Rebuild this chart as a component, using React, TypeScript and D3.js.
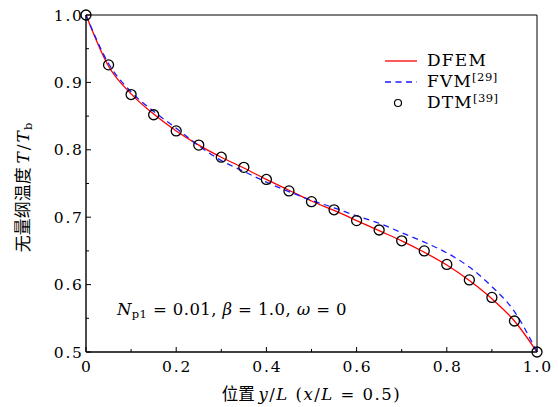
import React from "react";
import * as d3 from "d3";

const positions = [0, 0.05, 0.1, 0.15, 0.2, 0.25, 0.3, 0.35, 0.4, 0.45, 0.5, 0.55, 0.6, 0.65, 0.7, 0.75, 0.8, 0.85, 0.9, 0.95, 1.0];
const dfem = [1.0, 0.924, 0.883, 0.853, 0.828, 0.807, 0.789, 0.773, 0.756, 0.740, 0.724, 0.710, 0.695, 0.680, 0.665, 0.648, 0.629, 0.606, 0.579, 0.546, 0.5];
const fvm = [1.0, 0.928, 0.886, 0.857, 0.832, 0.806, 0.784, 0.768, 0.752, 0.738, 0.725, 0.714, 0.702, 0.691, 0.677, 0.663, 0.647, 0.626, 0.597, 0.560, 0.5];
const dtm = [1.0, 0.926, 0.882, 0.852, 0.828, 0.807, 0.789, 0.774, 0.756, 0.739, 0.723, 0.711, 0.695, 0.681, 0.665, 0.650, 0.630, 0.607, 0.581, 0.546, 0.5];

const xTicks = [0, 0.2, 0.4, 0.6, 0.8, 1.0];
const xTickLabels = ["0", "0.2", "0.4", "0.6", "0.8", "1.0"];
const xMinor = [0.1, 0.3, 0.5, 0.7, 0.9];
const yTicks = [0.5, 0.6, 0.7, 0.8, 0.9, 1.0];
const yTickLabels = ["0.5", "0.6", "0.7", "0.8", "0.9", "1.0"];
const yMinor = [0.55, 0.65, 0.75, 0.85, 0.95];

const W = 558, H = 407;
const L = 86, R = 537, T = 15, B = 352;
const SERIF = "'DejaVu Serif', serif";
const CJK = "'Noto Sans CJK SC', sans-serif";

export default function App() {
  const x = d3.scaleLinear().domain([0, 1]).range([L, R]);
  const y = d3.scaleLinear().domain([0.5, 1]).range([B, T]);
  const line = (vals: number[]) =>
    d3.line<number>().x((_, i) => x(positions[i])).y((v) => y(v)).curve(d3.curveMonotoneX)(vals) || "";

  return (
    <svg width={W} height={H} style={{ position: "absolute", left: 0, top: 0, background: "#fff" }}>
      <rect x={0} y={0} width={W} height={H} fill="#fff" />
      {/* frame */}
      <line x1={L} y1={T} x2={R} y2={T} stroke="#000" strokeWidth={1} />
      <line x1={R} y1={T} x2={R} y2={B} stroke="#000" strokeWidth={1} />
      {/* curves */}
      <path d={line(dfem)} fill="none" stroke="#ff0000" strokeWidth={1.3} />
      <path d={line(fvm)} fill="none" stroke="#1a1aff" strokeWidth={1.3} strokeDasharray="6,4.5" />
      {dtm.map((v, i) => (
        <circle key={i} cx={x(positions[i])} cy={y(v)} r={5} fill="none" stroke="#000" strokeWidth={1.3} />
      ))}
      {/* axes */}
      <line x1={L} y1={T} x2={L} y2={B} stroke="#000" strokeWidth={1.4} />
      <line x1={L} y1={B} x2={R} y2={B} stroke="#000" strokeWidth={1.4} />
      {xTicks.map((t, i) => (
        <g key={"xt" + i}>
          <line x1={x(t)} y1={B} x2={x(t)} y2={B - 5} stroke="#000" strokeWidth={1} />
          <text x={x(t) + 0.9} y={372} textAnchor="middle" fontFamily={SERIF} fontSize={15.5} fill="#000" letterSpacing={1.8}>
            {xTickLabels[i]}
          </text>
        </g>
      ))}
      {xMinor.map((t, i) => (
        <line key={"xm" + i} x1={x(t)} y1={B} x2={x(t)} y2={B - 3} stroke="#000" strokeWidth={1} />
      ))}
      {yTicks.map((t, i) => (
        <g key={"yt" + i}>
          <line x1={L} y1={y(t)} x2={L + 5} y2={y(t)} stroke="#000" strokeWidth={1} />
          <text x={83.8} y={y(t) + 5.5} textAnchor="end" fontFamily={SERIF} fontSize={15.5} fill="#000" letterSpacing={1.8}>
            {yTickLabels[i]}
          </text>
        </g>
      ))}
      {yMinor.map((t, i) => (
        <line key={"ym" + i} x1={L} y1={y(t)} x2={L + 3} y2={y(t)} stroke="#000" strokeWidth={1} />
      ))}
      {/* legend */}
      <line x1={385} y1={61} x2={417} y2={61} stroke="#ff0000" strokeWidth={1.3} />
      <line x1={385} y1={82} x2={417} y2={82} stroke="#1a1aff" strokeWidth={1.3} strokeDasharray="6,4.5" />
      <circle cx={398} cy={103} r={3.5} fill="none" stroke="#000" strokeWidth={1.2} />
      <g fontFamily={SERIF} fontSize={17} fill="#000" letterSpacing={1.2}>
        <text x={427} y={66}>DFEM</text>
        <text x={427} y={87}>FVM<tspan fontSize={11.5} dy={-6.5} letterSpacing={0.5}>[29]</tspan></text>
        <text x={427} y={108}>DTM<tspan fontSize={11.5} dy={-6.5} letterSpacing={0.5}>[39]</tspan></text>
      </g>
      {/* annotation */}
      <text x={117} y={315} fontFamily={SERIF} fontSize={16.5} fill="#000" letterSpacing={0.4}>
        <tspan fontStyle="italic">N</tspan>
        <tspan fontSize={11.5} dy={3}>p1</tspan>
        <tspan dy={-3}> = 0.01, </tspan>
        <tspan fontStyle="italic">β</tspan>
        <tspan> = 1.0, </tspan>
        <tspan fontStyle="italic">ω</tspan>
        <tspan> = 0</tspan>
      </text>
      {/* x title */}
      <text x={(L + R) / 2} y={400} textAnchor="middle" fontSize={16.5} fill="#000">
        <tspan fontFamily={CJK}>位置 </tspan>
        <tspan fontFamily={SERIF} fontStyle="italic" letterSpacing={1.5}>y</tspan>
        <tspan fontFamily={SERIF} letterSpacing={1.5}>/</tspan>
        <tspan fontFamily={SERIF} fontStyle="italic" letterSpacing={1.5}>L</tspan>
        <tspan fontFamily={SERIF} letterSpacing={1.5}> (</tspan>
        <tspan fontFamily={SERIF} fontStyle="italic" letterSpacing={1.5}>x</tspan>
        <tspan fontFamily={SERIF} letterSpacing={1.5}>/</tspan>
        <tspan fontFamily={SERIF} fontStyle="italic" letterSpacing={1.5}>L</tspan>
        <tspan fontFamily={SERIF} letterSpacing={1.5}> = 0.5)</tspan>
      </text>
      {/* y title */}
      <text transform={`translate(29, ${(T + B) / 2 + 4}) rotate(-90)`} textAnchor="middle" fontSize={17} fill="#000">
        <tspan fontFamily={CJK}>无量纲温度 </tspan>
        <tspan fontFamily={SERIF} fontStyle="italic" letterSpacing={2}>T</tspan>
        <tspan fontFamily={SERIF} letterSpacing={2}>/</tspan>
        <tspan fontFamily={SERIF} fontStyle="italic" letterSpacing={1}>T</tspan>
        <tspan fontFamily={SERIF} fontSize={11.5} dy={3}>b</tspan>
      </text>
    </svg>
  );
}
